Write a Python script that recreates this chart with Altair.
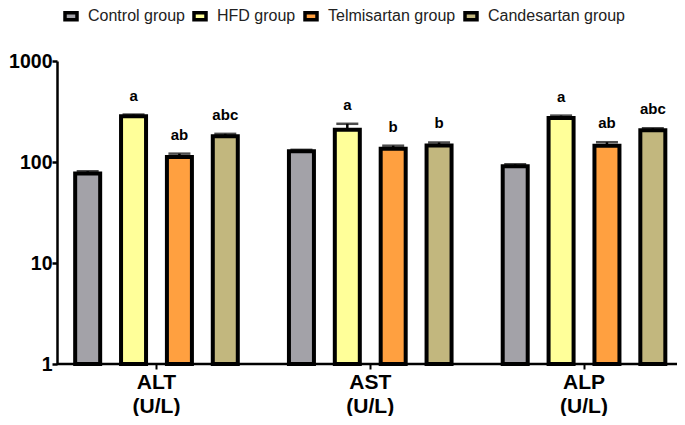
import altair as alt
import pandas as pd

groups = ["Control group", "HFD group", "Telmisartan group", "Candesartan group"]
params = ["ALT", "AST", "ALP"]
colors = ["#A3A2A8", "#FFFF99", "#FFA040", "#C2B77E"]

alt_means = [77, 283, 112, 180]
ast_means = [128, 209, 135, 146]
alp_means = [91, 273, 145, 206]
alt_errs = [4, 12, 9, 10]
ast_errs = [4, 30, 10, 10]
alp_errs = [4, 15, 12, 10]
alt_letters = ["", "a", "ab", "abc"]
ast_letters = ["", "a", "b", "b"]
alp_letters = ["", "a", "ab", "abc"]

rows = []
for p, ms, es, ls in [("ALT", alt_means, alt_errs, alt_letters),
                      ("AST", ast_means, ast_errs, ast_letters),
                      ("ALP", alp_means, alp_errs, alp_letters)]:
    for g, m, e, l in zip(groups, ms, es, ls):
        rows.append({"param": p, "group": g, "mean": m, "hi": m + e, "base": 1, "letter": l})
df = pd.DataFrame(rows)

FONT = "Liberation Sans"
W, H = 620, 303

xscale = alt.Scale(domain=params, paddingInner=0, paddingOuter=0, range=[-7.4, 633.9])
xoff = alt.XOffset("group:N", scale=alt.Scale(domain=groups, paddingInner=0, paddingOuter=0.33))
yscale = alt.Scale(type="log", domain=[1, 1000])

x_enc = alt.X("param:N", scale=xscale, sort=params,
              axis=alt.Axis(title=None, domain=False, ticks=True, tickSize=5, tickWidth=2,
                            tickColor="black", labelAngle=0, labelFont=FONT, labelFontSize=21,
                            labelFontWeight="bold", labelColor="black", labelPadding=2,
                            labelLineHeight=24, labelBaseline="top",
                            labelExpr="[datum.label, '(U/L)']"))
y_enc = alt.Y("mean:Q", scale=yscale,
              axis=alt.Axis(title=None, values=[1, 10, 100, 1000], format="d", grid=False,
                            domainColor="black", domainWidth=2.5, tickColor="black",
                            tickWidth=2.5, tickSize=5, labelFont=FONT, labelFontSize=19.5,
                            labelFontWeight="bold", labelColor="black", labelPadding=0))

bars = alt.Chart(df).mark_bar(width=25, stroke="black", strokeWidth=4).encode(
    x=x_enc, xOffset=xoff, y=y_enc, y2="base:Q",
    color=alt.Color("group:N", scale=alt.Scale(domain=groups, range=colors), sort=groups,
                    legend=alt.Legend(title=None, orient="none", legendX=6, legendY=-53,
                                      direction="horizontal",
                                      symbolType="M-1,-0.58H1V0.58H-1Z", symbolSize=144,
                                      symbolStrokeColor="black", symbolStrokeWidth=3.5,
                                      symbolOpacity=1,
                                      labelFont=FONT, labelFontSize=16, labelColor="#222",
                                      labelOffset=9, columnPadding=2, padding=0)),
)

err = alt.Chart(df).mark_rule(color="black", strokeWidth=2.5).encode(
    x=alt.X("param:N", scale=xscale, sort=params), xOffset=xoff,
    y=alt.Y("mean:Q", scale=yscale), y2="hi:Q")

caps = alt.Chart(df).mark_tick(color="black", thickness=2.5, size=22).encode(
    x=alt.X("param:N", scale=xscale, sort=params), xOffset=xoff,
    y=alt.Y("hi:Q", scale=yscale))

letters = alt.Chart(df).mark_text(font=FONT, fontSize=15, fontWeight="bold", color="black",
                                  baseline="alphabetic", dy=-14).encode(
    x=alt.X("param:N", scale=xscale, sort=params), xOffset=xoff,
    y=alt.Y("hi:Q", scale=yscale), text="letter:N")

baseline = alt.Chart(pd.DataFrame({"v": [1]})).mark_rule(color="black", strokeWidth=2.5).encode(
    y=alt.Y("v:Q", scale=yscale), x=alt.value(0), x2=alt.value(W))

chart = alt.layer(bars, err, caps, letters, baseline).properties(
    width=W, height=H, background="white",
    autosize=alt.AutoSizeParams(type="none"),
    padding={"left": 49, "top": 53, "right": 0, "bottom": 52}
).configure_view(strokeWidth=0, stroke="transparent")

chart.save("out.html", embed_options={"renderer": "svg", "actions": False})
